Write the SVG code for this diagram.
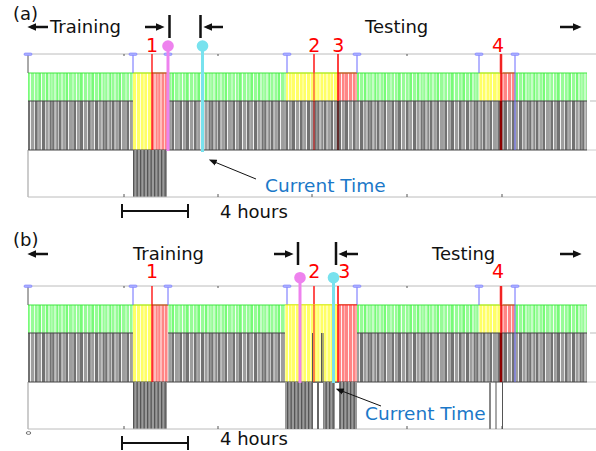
<svg xmlns="http://www.w3.org/2000/svg" width="596" height="451" viewBox="0 0 596 451">
<style>
text{font-family:"DejaVu Sans","Liberation Sans",sans-serif;}
.hdr{font-size:18px;fill:#111;}
.num{font-size:19px;fill:#ff0000;text-anchor:middle;}
.ct{font-size:18.5px;fill:#1b78c8;}
.harr{stroke:#111;stroke-width:2.5;fill:none;marker-end:url(#ah);}
.bar{stroke:#111;stroke-width:2.5;}
.axis{stroke:#bcbcbc;stroke-width:1;fill:none;}
.tick{stroke:#555;stroke-width:1;}
.blue{stroke:#6a6aff;stroke-width:1;}
.bcap{fill:#aab0ff;stroke:#7a7aff;stroke-width:0.6;}
.edge{stroke:#444;stroke-width:1;}
.mag{stroke:#ee82ee;stroke-width:3;}
.cya{stroke:#78e2ee;stroke-width:3;}
</style>
<defs>
<marker id="ah" viewBox="0 0 10 10" refX="6" refY="5" markerWidth="9" markerHeight="9" markerUnits="userSpaceOnUse" orient="auto"><path d="M0,0.5 L10,5 L0,9.5 z" fill="#111"/></marker>
<marker id="ah2" viewBox="0 0 10 10" refX="7" refY="5" markerWidth="8" markerHeight="8" markerUnits="userSpaceOnUse" orient="auto"><path d="M0,1 L10,5 L0,9 z" fill="#111"/></marker>
<pattern id="wstripe" x="0" y="0" width="53" height="10" patternUnits="userSpaceOnUse">
<rect x="1.5" width="1" height="10" fill="#fff" opacity="0.9"/>
<rect x="5" width="1" height="10" fill="#fff" opacity="0.6"/>
<rect x="8.5" width="1" height="10" fill="#fff" opacity="0.9"/>
<rect x="12" width="0.8" height="10" fill="#fff" opacity="0.5"/>
<rect x="15" width="1" height="10" fill="#fff" opacity="0.9"/>
<rect x="19.5" width="1" height="10" fill="#fff" opacity="0.7"/>
<rect x="23" width="1" height="10" fill="#fff" opacity="0.9"/>
<rect x="26" width="0.8" height="10" fill="#fff" opacity="0.5"/>
<rect x="30" width="1" height="10" fill="#fff" opacity="0.9"/>
<rect x="34" width="1" height="10" fill="#fff" opacity="0.8"/>
<rect x="37.5" width="1" height="10" fill="#fff" opacity="0.6"/>
<rect x="41" width="1" height="10" fill="#fff" opacity="0.9"/>
<rect x="45" width="1" height="10" fill="#fff" opacity="0.7"/>
<rect x="48.5" width="1" height="10" fill="#fff" opacity="0.9"/>
<rect x="51.5" width="0.8" height="10" fill="#fff" opacity="0.5"/>
</pattern>
<pattern id="gvar" x="0" y="0" width="53" height="10" patternUnits="userSpaceOnUse">
<rect x="2.5" width="2" height="10" fill="#9e9e9e"/>
<rect x="9.5" width="2.5" height="10" fill="#9e9e9e"/>
<rect x="16" width="3" height="10" fill="#9e9e9e"/>
<rect x="24" width="2" height="10" fill="#9e9e9e"/>
<rect x="31" width="3" height="10" fill="#9e9e9e"/>
<rect x="38.5" width="2.5" height="10" fill="#9e9e9e"/>
<rect x="46" width="2.5" height="10" fill="#9e9e9e"/>
</pattern>
<pattern id="gstripe" x="0" y="0" width="53" height="10" patternUnits="userSpaceOnUse">
<rect x="4" width="2" height="10" fill="#78fb78"/>
<rect x="13" width="3" height="10" fill="#78fb78"/>
<rect x="27" width="2" height="10" fill="#78fb78"/>
<rect x="38" width="3" height="10" fill="#78fb78"/>
<rect x="46" width="2" height="10" fill="#78fb78"/>
</pattern>
<pattern id="under" x="0" y="0" width="7" height="10" patternUnits="userSpaceOnUse">
<rect width="7" height="10" fill="#9a9a9a"/>
<rect x="0" width="1.3" height="10" fill="#555"/>
<rect x="3.5" width="1.3" height="10" fill="#555"/>
</pattern>
<g id="plotbase">
<line class="axis" x1="28" y1="54" x2="596" y2="54"/>
<line class="tick" x1="124" y1="54" x2="124" y2="56"/>
<line class="tick" x1="218" y1="54" x2="218" y2="56"/>
<line class="tick" x1="407" y1="54" x2="407" y2="56"/>
<rect x="28" y="73" width="559" height="28" fill="#97fc97"/>
<rect x="28" y="73" width="559" height="28" fill="url(#gstripe)"/>
<rect x="28" y="101" width="559" height="49" fill="#727272"/>
<rect x="28" y="101" width="559" height="49" fill="url(#gvar)"/>
<rect x="133" y="73" width="19" height="77" fill="#ffff66"/>
<rect x="152" y="73" width="16" height="77" fill="#ff8585"/>
<rect x="286" y="73" width="52" height="28" fill="#ffff66"/>
<rect x="338" y="73" width="19" height="28" fill="#ff8585"/>
<rect x="479" y="73" width="22" height="28" fill="#ffff66"/>
<rect x="501" y="73" width="14" height="28" fill="#ff8585"/>
<rect x="28" y="73" width="559" height="77" fill="url(#wstripe)"/>
<line x1="28" y1="73" x2="587" y2="73" stroke="#3ee83e" stroke-width="1"/>
<line x1="133" y1="73" x2="152" y2="73" stroke="#eeee22" stroke-width="1"/>
<line x1="286" y1="73" x2="338" y2="73" stroke="#eeee22" stroke-width="1"/>
<line x1="479" y1="73" x2="501" y2="73" stroke="#eeee22" stroke-width="1"/>
<line x1="152" y1="73" x2="168" y2="73" stroke="#ff2020" stroke-width="1"/>
<line x1="338" y1="73" x2="357" y2="73" stroke="#ff2020" stroke-width="1"/>
<line x1="501" y1="73" x2="515" y2="73" stroke="#ff2020" stroke-width="1"/>
<line class="edge" x1="28" y1="101" x2="133" y2="101"/>
<line class="edge" x1="168" y1="101" x2="587" y2="101"/>
<line class="edge" x1="28" y1="150" x2="587" y2="150"/>
<rect x="133" y="150" width="34" height="47" fill="url(#under)"/>
<line x1="28" y1="54" x2="28" y2="73" stroke="#555" stroke-width="1"/>
<line x1="28" y1="150" x2="28" y2="197" stroke="#999" stroke-width="1"/>
<line class="axis" x1="28" y1="197" x2="596" y2="197"/>
<line class="tick" x1="124" y1="194" x2="124" y2="197"/>
<line class="tick" x1="218" y1="194" x2="218" y2="197"/>
<line class="tick" x1="312" y1="194" x2="312" y2="197"/>
<line class="tick" x1="407" y1="194" x2="407" y2="197"/>
<line class="tick" x1="502" y1="194" x2="502" y2="197"/>
<line x1="590" y1="101" x2="596" y2="101" stroke="#bbb"/>
<line x1="587" y1="150" x2="596" y2="150" stroke="#ccc"/>
<line class="blue" x1="133" y1="54" x2="133" y2="73"/>
<line class="blue" x1="168" y1="54" x2="168" y2="73"/>
<line class="blue" x1="287" y1="54" x2="287" y2="73"/>
<line class="blue" x1="357" y1="54" x2="357" y2="73"/>
<line class="blue" x1="479" y1="54" x2="479" y2="73"/>
<line class="blue" x1="515" y1="54" x2="515" y2="150"/>
<rect class="bcap" x="24" y="53" width="8" height="2.4" rx="1.2"/>
<rect class="bcap" x="129" y="53" width="8" height="2.4" rx="1.2"/>
<rect class="bcap" x="164" y="53" width="8" height="2.4" rx="1.2"/>
<rect class="bcap" x="283" y="53" width="8" height="2.4" rx="1.2"/>
<rect class="bcap" x="353" y="53" width="8" height="2.4" rx="1.2"/>
<rect class="bcap" x="475" y="53" width="8" height="2.4" rx="1.2"/>
<rect class="bcap" x="511" y="53" width="8" height="2.4" rx="1.2"/>
<line x1="152" y1="54" x2="152" y2="150" stroke="#ff0000" stroke-width="1.3"/>
<line x1="501" y1="54" x2="501" y2="73" stroke="#ff8a8a" stroke-width="3"/>
<line x1="501" y1="54" x2="501" y2="101" stroke="#ee0000" stroke-width="1.5"/>
<line x1="501" y1="101" x2="501" y2="150" stroke="#8b0000" stroke-width="2.5"/>
<line x1="314" y1="54" x2="314" y2="73" stroke="#ff5050" stroke-width="2"/>
<line x1="338" y1="54" x2="338" y2="73" stroke="#ff0000" stroke-width="1.5"/>
<line x1="122" y1="211" x2="188" y2="211" stroke="#111" stroke-width="2"/>
<line x1="122" y1="204" x2="122" y2="218" stroke="#111" stroke-width="2"/>
<line x1="188" y1="204" x2="188" y2="218" stroke="#111" stroke-width="2"/>
</g>
</defs>

<g id="panel-a">
<use href="#plotbase"/>
<line x1="314" y1="73" x2="314" y2="101" stroke="#ff4400" stroke-width="1.2"/>
<line x1="314" y1="101" x2="314" y2="150" stroke="#a00000" stroke-width="1.2"/>
<line x1="338" y1="73" x2="338" y2="101" stroke="#ff0000" stroke-width="1.5"/>
<line x1="338" y1="101" x2="338" y2="150" stroke="#4a0000" stroke-width="1.5"/>
<g id="pin-a-magenta"><line class="mag" x1="168" y1="46" x2="168" y2="151"/><circle cx="168" cy="46" r="5.8" fill="#ee82ee"/></g>
<g id="pin-a-cyan"><line class="cya" x1="202.5" y1="46" x2="202.5" y2="152"/><circle cx="202.5" cy="46" r="5.8" fill="#78e2ee"/></g>
<text x="13" y="19.5" class="hdr" font-size="19">(a)</text>
<line class="harr" x1="48" y1="27" x2="31" y2="27"/>
<text x="50" y="33" class="hdr">Training</text>
<line class="harr" x1="145" y1="27" x2="161" y2="27"/>
<line class="bar" x1="169.5" y1="15" x2="169.5" y2="38"/>
<line class="bar" x1="200.5" y1="15" x2="200.5" y2="38"/>
<line class="harr" x1="223" y1="27" x2="207" y2="27"/>
<text x="365" y="33" class="hdr">Testing</text>
<line class="harr" x1="560" y1="27" x2="578" y2="27"/>
<text x="152" y="52" class="num">1</text>
<text x="314.3" y="52" class="num">2</text>
<text x="338.3" y="52" class="num">3</text>
<text x="498" y="52" class="num">4</text>
<g id="conn-a"><line x1="256" y1="179" x2="211" y2="160.5" stroke="#111" stroke-width="1" marker-end="url(#ah2)"/></g>
<text x="265" y="191.5" class="ct">Current Time</text>
<text x="220" y="218" class="hdr">4 hours</text>
</g>

<g id="panel-b">
<use href="#plotbase" y="232"/>
<rect x="285" y="305" width="53" height="77" fill="#ffff66"/>
<rect x="338" y="305" width="19" height="77" fill="#ff8585"/>
<rect x="285" y="305" width="72" height="77" fill="url(#wstripe)"/>
<line x1="285" y1="305" x2="338" y2="305" stroke="#eeee22"/>
<line x1="338" y1="305" x2="357" y2="305" stroke="#ff2020"/>
<line x1="321.5" y1="333" x2="321.5" y2="382" stroke="#555" stroke-width="1"/>
<line x1="323" y1="333" x2="323" y2="382" stroke="#555" stroke-width="1"/>
<line x1="312.5" y1="333" x2="312.5" y2="382" stroke="#555" stroke-width="1"/>
<line class="edge" x1="285" y1="382" x2="357" y2="382"/>
<line x1="314" y1="305" x2="314" y2="382" stroke="#ff3300" stroke-width="1.2"/>
<line x1="338" y1="305" x2="338" y2="382" stroke="#ff0000" stroke-width="1.5"/>
<rect x="285" y="382" width="28" height="47" fill="url(#under)"/>
<rect x="317" y="382" width="2" height="47" fill="#666"/>
<rect x="323" y="382" width="12" height="47" fill="url(#under)"/>
<rect x="339" y="382" width="18" height="47" fill="url(#under)"/>
<rect x="489" y="382" width="2" height="47" fill="#888"/>
<rect x="495.5" y="382" width="1" height="47" fill="#555"/>
<rect x="502" y="382" width="1" height="47" fill="#555"/>
<ellipse cx="28.5" cy="433" rx="2.3" ry="1.4" fill="none" stroke="#555" stroke-width="0.8"/>
<g id="pin-b-magenta"><line class="mag" x1="300" y1="278" x2="300" y2="383"/><circle cx="300" cy="277.7" r="5.8" fill="#ee82ee"/></g>
<g id="pin-b-cyan"><line class="cya" x1="333.5" y1="278" x2="333.5" y2="383"/><circle cx="333.5" cy="277.7" r="5.8" fill="#78e2ee"/></g>
<text x="13" y="246" class="hdr" font-size="19">(b)</text>
<line class="harr" x1="48" y1="254" x2="31" y2="254"/>
<text x="133" y="259.5" class="hdr">Training</text>
<line class="harr" x1="274" y1="254" x2="290" y2="254"/>
<line class="bar" x1="298" y1="242" x2="298" y2="265"/>
<line class="bar" x1="336" y1="242" x2="336" y2="265"/>
<line class="harr" x1="358" y1="254" x2="342" y2="254"/>
<text x="432" y="259.5" class="hdr">Testing</text>
<line class="harr" x1="560" y1="254" x2="578" y2="254"/>
<text x="152" y="278" class="num">1</text>
<text x="314.3" y="278" class="num">2</text>
<text x="344.3" y="278" class="num">3</text>
<text x="498" y="278" class="num">4</text>
<g id="conn-b"><line x1="381" y1="406" x2="338" y2="389.5" stroke="#111" stroke-width="1" marker-end="url(#ah2)"/></g>
<text x="365" y="419.5" class="ct">Current Time</text>
<text x="220" y="445" class="hdr">4 hours</text>
</g>
</svg>
